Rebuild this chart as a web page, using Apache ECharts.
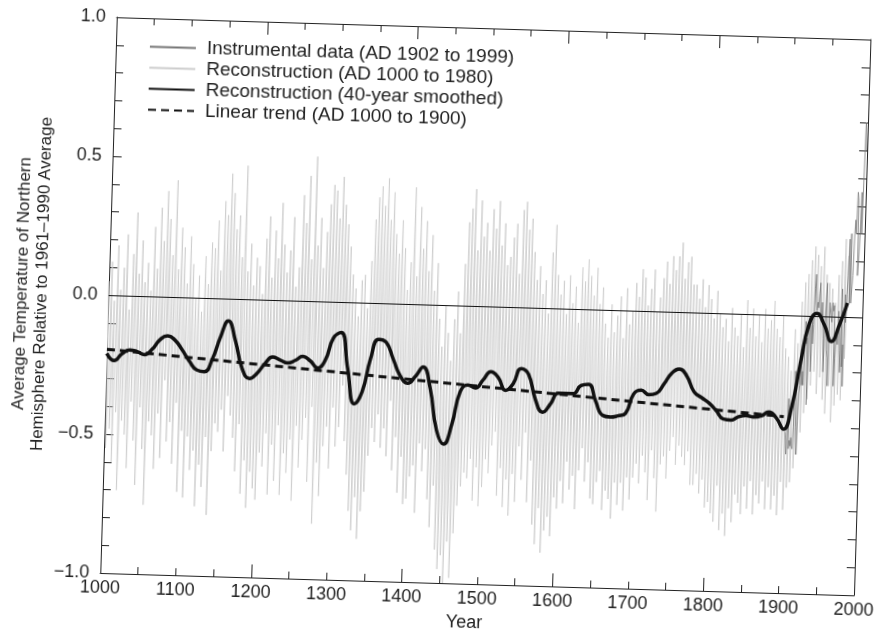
<!DOCTYPE html>
<html>
<head>
<meta charset="utf-8">
<script src="https://cdn.jsdelivr.net/npm/echarts@6/dist/echarts.min.js"></script>
<style>
  html, body { margin: 0; padding: 0; background: #fff; overflow: hidden; }
  /* the scanned figure sits slightly tilted */
  #chart { width: 885px; height: 636px; transform: rotate(1.7deg); transform-origin: 50% 50%; }
</style>
</head>
<body>
<div id="chart"></div>
<script>
// ---- data ----
var xTickLabels = [1000, 1100, 1200, 1300, 1400, 1500, 1600, 1700, 1800, 1900, 2000];
var yTickLabels = ["−1.0", "−0.5", "0.0", "0.5", "1.0"];
var yTitle = "Average Temperature of Northern\nHemisphere Relative to 1961–1990 Average";

// annual reconstruction, sampled every 2 years from AD 1000 to 1980
var reconStart = 1000;
var reconStep = 2;
var reconValues = [
  0.05, -0.55, 0.12, -0.48, -0.02,   -0.6, 0.18, -0.42, 0.02, -0.7,
  0.1, -0.45, 0.22, -0.5, -0.05,     -0.62, 0.15, -0.38, 0.3, -0.52,
  0.08, -0.68, 0.2, -0.4, 0.05,      -0.55, 0.12, -0.75, 0.02, -0.45,
  0.25, -0.5, 0.1, -0.62, 0.32,      -0.42, 0.2, -0.58, 0.38, -0.3,
  0.28, -0.52, 0.15, -0.45, 0.42,    -0.6, 0.1, -0.38, 0.25, -0.7,
  0.18, -0.48, 0.05, -0.72, 0.22,    -0.5, 0.12, -0.62, 0.0, -0.55,
  0.08, -0.75, -0.05, -0.6, 0.15,    -0.68, 0.05, -0.5, 0.2, -0.78,
  0.18, -0.55, 0.28, -0.45, 0.1,     -0.48, 0.35, -0.4, 0.3, -0.55,
  0.45, -0.35, 0.38, -0.42, 0.25,    -0.5, 0.3, -0.62, 0.15, -0.45,
  0.48, -0.7, 0.1, -0.58, 0.2,       -0.75, 0.05, -0.62, 0.15, -0.68,
  0.12, -0.72, 0.02, -0.55, 0.22,    -0.6, 0.3, -0.48, 0.08, -0.7,
  0.25, -0.52, 0.15, -0.65, 0.35,    -0.45, 0.2, -0.7, 0.1, -0.55,
  0.18, -0.62, 0.3, -0.5, 0.05,      -0.72, 0.12, -0.45, 0.38, -0.6,
  0.28, -0.5, 0.45, -0.42, 0.15,     -0.65, 0.52, -0.38, 0.2, -0.8,
  0.3, -0.58, 0.12, -0.7, 0.25,      -0.52, 0.35, -0.45, 0.42, -0.6,
  0.4, -0.38, 0.3, -0.52, 0.45,      -0.45, 0.35, -0.3, 0.28, -0.5,
  0.2, -0.62, 0.1, -0.75, 0.05,      -0.82, -0.05, -0.7, 0.08, -0.85,
  0.1, -0.75, -0.02, -0.68, 0.15,    -0.55, 0.3, -0.45, 0.38, -0.5,
  0.42, -0.4, 0.35, -0.52, 0.45,     -0.45, 0.3, -0.55, 0.4, -0.35,
  0.25, -0.6, 0.18, -0.48, 0.3,      -0.68, 0.2, -0.55, 0.05, -0.72,
  0.15, -0.7, 0.42, -0.62, 0.1,      -0.58, 0.35, -0.75, 0.2, -0.5,
  0.3, -0.6, 0.12, -0.52, 0.25,      -0.7, 0.05, -0.8, 0.15, -0.65,
  -0.05, -0.88, -0.15, -0.95, 0.0,   -0.9, -0.1, -1.0, -0.2, -0.85,
  -0.05, -0.98, 0.05, -0.82, -0.1,   -0.72, 0.15, -0.65, 0.3, -0.6,
  0.35, -0.62, 0.42, -0.55, 0.2,     -0.7, 0.38, -0.58, 0.25, -0.72,
  0.3, -0.65, 0.2, -0.55, 0.35,      -0.6, 0.28, -0.5, 0.38, -0.45,
  0.22, -0.68, 0.3, -0.58, 0.15,     -0.72, 0.18, -0.62, 0.25, -0.75,
  0.3, -0.6, 0.12, -0.7, 0.35,       -0.5, 0.38, -0.62, 0.28, -0.45,
  0.32, -0.7, 0.2, -0.55, 0.1,       -0.78, 0.15, -0.85, 0.05, -0.72,
  0.1, -0.88, -0.02, -0.8, 0.2,      -0.75, 0.3, -0.82, 0.12, -0.68,
  0.05, -0.72, 0.1, -0.62, -0.02,    -0.7, 0.12, -0.55, 0.02, -0.65,
  0.08, -0.6, -0.05, -0.72, 0.15,    -0.58, 0.1, -0.5, 0.18, -0.62,
  0.12, -0.55, 0.05, -0.68, 0.15,    -0.7, 0.02, -0.62, 0.08, -0.58,
  -0.05, -0.72, -0.1, -0.65, 0.02,   -0.68, -0.08, -0.75, -0.02, -0.62,
  0.05, -0.7, -0.1, -0.62, 0.08,     -0.72, -0.05, -0.6, 0.0, -0.68,
  0.1, -0.6, 0.05, -0.55, 0.15,      -0.62, 0.12, -0.52, 0.02, -0.58,
  0.08, -0.68, 0.15, -0.5, 0.0,      -0.6, 0.05, -0.72, 0.12, -0.55,
  0.18, -0.52, 0.1, -0.6, 0.2,       -0.5, 0.15, -0.45, 0.2, -0.55,
  0.25, -0.48, 0.12, -0.52, 0.18,    -0.55, 0.2, -0.5, 0.1, -0.62,
  0.1, -0.62, 0.05, -0.58, 0.12,     -0.65, 0.02, -0.6, 0.1, -0.7,
  0.05, -0.68, -0.02, -0.72, 0.08,   -0.75, 0.0, -0.62, -0.05, -0.78,
  -0.02, -0.72, -0.1, -0.8, 0.02,    -0.7, -0.05, -0.75, -0.08, -0.65,
  0.0, -0.68, -0.12, -0.72, 0.05,    -0.62, -0.05, -0.7, 0.02, -0.6,
  -0.08, -0.72, 0.0, -0.65, -0.1,    -0.68, 0.02, -0.6, -0.05, -0.7,
  -0.02, -0.62, 0.05, -0.7, -0.05,   -0.65, -0.08, -0.72, 0.0, -0.6,
  -0.12, -0.7, -0.15, -0.62, -0.2,   -0.6, -0.05, -0.55, -0.1, -0.5,
  0.05, -0.42, 0.12, -0.35, 0.15,    -0.3, 0.2, -0.25, 0.25, -0.2,
  0.22, -0.28, 0.18, -0.22, 0.25,    -0.3, 0.15, -0.35, 0.12, -0.25,
  0.1, -0.38, 0.05, -0.32, 0.15,     -0.28, 0.2, -0.3, 0.28, -0.15,
  0.22
];

// instrumental record, annual, AD 1902 to 1999
var instrStart = 1902;
var instrValues = [
  -0.42, -0.45, -0.5, -0.38, -0.3, -0.48, -0.45, -0.47,
  -0.44, -0.47, -0.48, -0.4, -0.2, -0.25, -0.4, -0.5, -0.38, -0.28,
  -0.25, -0.12, -0.25, -0.2, -0.25, -0.12, -0.02, -0.1, -0.08, -0.32,
  -0.05, 0.0, -0.05, -0.2, 0.0, -0.1, -0.03, 0.1, 0.15, 0.05,
  0.02, 0.05, 0.03, 0.08, 0.12, 0.0, -0.02, 0.05, -0.02, -0.08,
  -0.2, -0.02, 0.05, 0.12, -0.12, -0.15, -0.25, 0.05, 0.05, 0.05,
  -0.02, 0.05, 0.02, 0.04, -0.25, -0.15, -0.08, -0.05, -0.1, 0.02,
  -0.02, -0.12, -0.2, 0.1, -0.18, -0.1, -0.25, 0.08, -0.02, 0.08,
  0.15, 0.28, 0.05, 0.3, 0.05, 0.05, 0.15, 0.3, 0.35, 0.3,
  0.45, 0.42, 0.15, 0.2, 0.3, 0.45, 0.3, 0.5, 0.7, 0.6
];

// 40-year smoothed reconstruction, read every 10 years
var smoothYears = [];
for (var y = 1000; y <= 1980; y += 10) smoothYears.push(y);
var smoothValues = [
  -0.21, -0.235, -0.21, -0.195, -0.2, -0.21, -0.19, -0.155, -0.14, -0.155,
  -0.19, -0.23, -0.26, -0.265, -0.22, -0.14, -0.08, -0.15, -0.25, -0.285,
  -0.265, -0.23, -0.205, -0.215, -0.225, -0.215, -0.2, -0.215, -0.24, -0.21,
  -0.13, -0.11, -0.24, -0.365, -0.32, -0.2, -0.13, -0.14, -0.2, -0.26,
  -0.285, -0.26, -0.225, -0.3, -0.45, -0.5, -0.43, -0.31, -0.285, -0.295,
  -0.265, -0.235, -0.255, -0.3, -0.275, -0.22, -0.24, -0.33, -0.375, -0.345,
  -0.305, -0.305, -0.305, -0.275, -0.27, -0.33, -0.38, -0.385, -0.38, -0.37,
  -0.3, -0.285, -0.3, -0.295, -0.26, -0.22, -0.205, -0.23, -0.285, -0.305,
  -0.323, -0.35, -0.38, -0.383, -0.37, -0.365, -0.37, -0.365, -0.35, -0.37,
  -0.41, -0.33, -0.17, -0.03, 0.01, -0.03, -0.09, -0.03, 0.05
];

// linear trend AD 1000 to 1900
var trendYears = [1000, 1900];
var trendValues = [-0.195, -0.365];

var seriesNames = [
  "Instrumental data (AD 1902 to 1999)",
  "Reconstruction (AD 1000 to 1980)",
  "Reconstruction (40-year smoothed)",
  "Linear trend (AD 1000 to 1900)"
];

// ---- build the pairs for echarts ----
function pairs(start, step, values) {
  var out = [];
  for (var i = 0; i < values.length; i++) out.push([start + i * step, values[i]]);
  return out;
}
function zip(xs, ys) {
  var out = [];
  for (var i = 0; i < xs.length; i++) out.push([xs[i], ys[i]]);
  return out;
}

var FONT = "'Liberation Sans Narrow', 'Arial Narrow', 'Liberation Sans', Arial, sans-serif";
var INK = "#222";

var chart = echarts.init(document.getElementById("chart"), null, { renderer: "canvas" });

var baseX = {
  type: "value", min: 1000, max: 2000, gridIndex: 0,
  splitLine: { show: false },
  axisLine: { onZero: false, lineStyle: { color: INK, width: 1 } }
};
var baseY = {
  type: "value", min: -1, max: 1, gridIndex: 0,
  splitLine: { show: false },
  axisLine: { onZero: false, lineStyle: { color: INK, width: 1 } }
};

var option = {
  animation: false,
  backgroundColor: "#fff",
  textStyle: { fontFamily: FONT },
  grid: { left: 108, right: 20, top: 27, bottom: 51, containLabel: false },
  // y axis title, two centred lines turned on their side
  graphic: [{
    type: "text",
    x: 31,
    y: 296,
    rotation: Math.PI / 2,
    style: {
      text: yTitle,
      fontSize: 17,
      lineHeight: 20,
      fontFamily: FONT,
      fill: INK,
      align: "center",
      verticalAlign: "middle"
    }
  }],
  legend: {
    orient: "vertical",
    left: 141,
    top: 45,
    padding: 0,
    itemWidth: 46,
    itemHeight: 14,
    itemGap: 0,
    selectedMode: false,
    itemStyle: { opacity: 0 },
    textStyle: { fontSize: 19, lineHeight: 21, color: INK, fontFamily: FONT, padding: [0, 0, 0, 6] },
    data: seriesNames
  },
  xAxis: [
    Object.assign({}, baseX, {
      position: "bottom",
      interval: 100,
      axisTick: { inside: true, length: 7, lineStyle: { color: INK } },
      minorTick: { show: true, splitNumber: 2, length: 7, lineStyle: { color: INK } },
      axisLabel: {
        fontSize: 18, color: INK, margin: 6, fontFamily: FONT,
        formatter: function (v) { return xTickLabels.indexOf(v) >= 0 ? String(v) : ""; }
      },
      name: "Year",
      nameLocation: "middle",
      nameGap: 30,
      nameTextStyle: { fontSize: 18, color: INK, fontFamily: FONT, padding: [0, 24, 0, 0] }
    }),
    Object.assign({}, baseX, {
      position: "bottom",
      interval: 200,
      axisLine: { show: false, onZero: false },
      axisTick: { inside: true, length: 13, lineStyle: { color: INK } },
      axisLabel: { show: false }
    }),
    Object.assign({}, baseX, {
      position: "top",
      interval: 50,
      axisTick: { inside: true, length: 7, lineStyle: { color: INK } },
      axisLabel: { show: false }
    }),
    Object.assign({}, baseX, {
      position: "top",
      interval: 200,
      axisLine: { show: false, onZero: false },
      axisTick: { inside: true, length: 13, lineStyle: { color: INK } },
      axisLabel: { show: false }
    })
  ],
  yAxis: [
    Object.assign({}, baseY, {
      position: "left",
      interval: 0.5,
      axisTick: { inside: true, length: 9, lineStyle: { color: INK } },
      minorTick: { show: true, splitNumber: 5, length: 8, lineStyle: { color: INK } },
      axisLabel: {
        fontSize: 18, color: INK, margin: 11, fontFamily: FONT,
        formatter: function (v) { return yTickLabels[Math.round((v + 1) * 2)]; }
      }
    }),
    Object.assign({}, baseY, {
      position: "right",
      interval: 0.1,
      axisTick: { inside: true, length: 8, lineStyle: { color: INK } },
      axisLabel: { show: false }
    })
  ],
  series: [
    {
      name: seriesNames[1],
      type: "line",
      symbol: "none",
      data: pairs(reconStart, reconStep, reconValues),
      lineStyle: { color: "#cdcdcd", width: 0.9 },
      itemStyle: { color: "#cdcdcd" },
      z: 1
    },
    {
      name: seriesNames[0],
      type: "line",
      symbol: "none",
      data: pairs(instrStart, 1, instrValues),
      lineStyle: { color: "#777", width: 0.8 },
      itemStyle: { color: "#777" },
      z: 2,
      markLine: {
        silent: true,
        symbol: "none",
        label: { show: false },
        lineStyle: { color: "#111", width: 1, type: "solid" },
        data: [{ yAxis: 0 }]
      }
    },
    {
      name: seriesNames[3],
      type: "line",
      symbol: "none",
      data: zip(trendYears, trendValues),
      lineStyle: { color: "#111", width: 3, type: [8, 5] },
      itemStyle: { color: "#111" },
      z: 3
    },
    {
      name: seriesNames[2],
      type: "line",
      symbol: "none",
      smooth: 0.5,
      data: zip(smoothYears, smoothValues),
      lineStyle: { color: "#111", width: 3.5 },
      itemStyle: { color: "#111" },
      z: 4
    }
  ]
};

chart.setOption(option);
</script>
</body>
</html>
